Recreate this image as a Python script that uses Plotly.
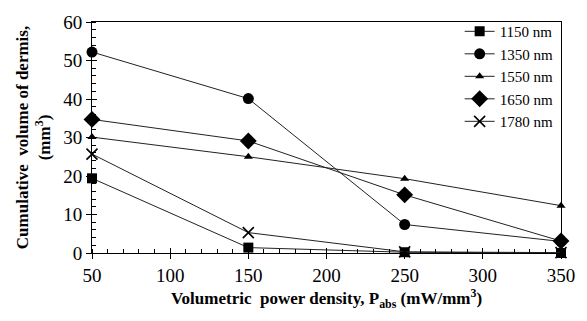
import plotly.graph_objects as go

x_vals = [50, 150, 250, 350]
names = ["1150 nm", "1350 nm", "1550 nm", "1650 nm", "1780 nm"]
s1150 = [19.4, 1.4, 0.2, 0.0]
s1350 = [52.2, 40.1, 7.4, 3.0]
s1550 = [30.1, 25.0, 19.3, 12.3]
s1650 = [34.7, 29.1, 15.1, 3.1]
s1780 = [25.7, 5.3, 0.3, 0.1]
series = [s1150, s1350, s1550, s1650, s1780]
symbols = ["square", "circle", "triangle-up", "diamond", "x-thin"]
sizes = [10, 11, 8, 13, 11]

FONT = "Times New Roman, Tinos, Liberation Serif, DejaVu Serif, Noto Serif, Times, serif"

fig = go.Figure()
for name, ys, sym, sz in zip(names, series, symbols, sizes):
    fig.add_trace(go.Scatter(
        x=x_vals, y=ys, name=name, mode="lines+markers", cliponaxis=False,
        line=dict(color="#222222", width=1),
        marker=dict(symbol=sym, size=sz, color="black",
                    line=dict(color="black", width=1.6 if sym == "x-thin" else 0)),
    ))

# invisible trace on overlay axes for crossing ticks
fig.add_trace(go.Scatter(x=[50], y=[0], xaxis="x2", yaxis="y2", showlegend=False,
                         mode="markers", marker=dict(opacity=0), hoverinfo="skip"))

fig.update_layout(
    width=587, height=321,
    margin=dict(l=92, r=21, t=14, b=68),
    paper_bgcolor="white", plot_bgcolor="white",
    font=dict(family=FONT, color="black", size=18),
    showlegend=True,
    legend=dict(x=0.995, y=1.03, xanchor="right", yanchor="top",
                font=dict(family=FONT, size=15, color="black"),
                bgcolor="rgba(0,0,0,0)", borderwidth=0,
                itemwidth=30, tracegroupgap=0),
    xaxis=dict(range=[50, 350], tickvals=[50, 100, 150, 200, 250, 300, 350],
               showgrid=False, zeroline=False, showline=True, linecolor="black",
               linewidth=1, mirror=True, ticks="outside", ticklen=5,
               tickcolor="black",
               minor=dict(ticks="inside", ticklen=4, dtick=10, tickcolor="black", showgrid=False),
               tickfont=dict(family=FONT, size=19),
               title=dict(text="<b>Volumetric  power density, P<sub>abs</sub> (mW/mm<sup>3</sup>)</b>",
                          font=dict(family=FONT, size=17), standoff=6)),
    yaxis=dict(range=[0, 60], tickvals=[0, 10, 20, 30, 40, 50, 60],
               showgrid=False, zeroline=False, showline=True, linecolor="black",
               linewidth=1, mirror=True, ticks="outside", ticklen=5,
               tickcolor="black",
               minor=dict(ticks="inside", ticklen=4, dtick=2, tickcolor="black", showgrid=False),
               tickfont=dict(family=FONT, size=19),
               title=dict(text="<b>Cumulative  volume of dermis,<br>(mm<sup>3</sup>)</b>",
                          font=dict(family=FONT, size=17), standoff=8)),
    xaxis2=dict(range=[50, 350], overlaying="x", tickvals=[50, 100, 150, 200, 250, 300, 350],
                ticks="inside", ticklen=5, tickcolor="black", showticklabels=False,
                showgrid=False, zeroline=False, showline=False),
    yaxis2=dict(range=[0, 60], overlaying="y", tickvals=[0, 10, 20, 30, 40, 50, 60],
                ticks="inside", ticklen=5, tickcolor="black", showticklabels=False,
                showgrid=False, zeroline=False, showline=False),
)

fig.write_html("out.html")
